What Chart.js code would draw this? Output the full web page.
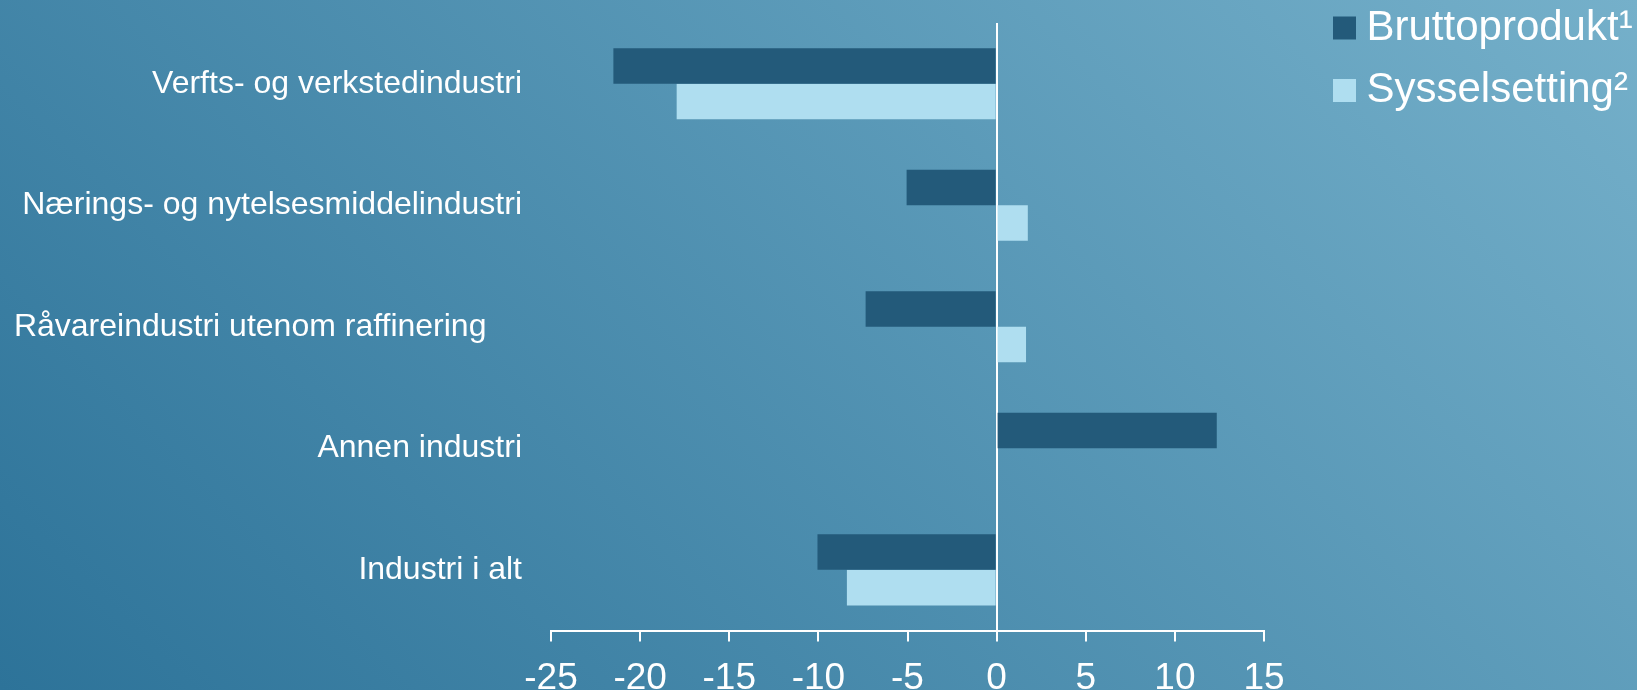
<!DOCTYPE html>
<html>
<head>
<meta charset="utf-8">
<script src="https://cdn.jsdelivr.net/npm/chart.js@4.4.1/dist/chart.umd.min.js"></script>
<style>
    html, body { margin: 0; padding: 0; overflow: hidden; }
    body {
        width: 1637px;
        height: 690px;
        background: linear-gradient(45deg, #2d7399 0%, #75b0ca 100%);
    }
    #wrap { position: relative; width: 1637px; height: 716px; }
</style>
</head>
<body>
<div id="wrap"><canvas id="chart"></canvas></div>
<script>
// categories (trailing spaces on the third label as in the original)
const categories = [
    'Verfts- og verkstedindustri',
    'Nærings- og nytelsesmiddelindustri',
    'Råvareindustri utenom raffinering    ',
    'Annen industri',
    'Industri i alt'
];
const bruttoprodukt = [-21.5, -5.05, -7.35, 12.35, -10.05];
const sysselsetting = [-17.95, 1.75, 1.65, null, -8.4];
const xTicks = [-25, -20, -15, -10, -5, 0, 5, 10, 15];

const FONT = "'Liberation Sans', Arial, sans-serif";

Chart.defaults.font.family = FONT;
Chart.defaults.color = '#ffffff';

// put the legend in the top right corner like in the original
const legendPlacer = {
    id: 'legendPlacer',
    afterLayout: function(chart) {
        let lg = chart.legend;
        let w = lg.width, h = lg.height;
        lg.left = 1323;
        lg.right = lg.left + w;
        lg.top = -13.5;
        lg.bottom = lg.top + h;
    }
};

let chart = new Chart(document.getElementById('chart'), {
    type: 'bar',
    data: {
        labels: categories,
        datasets: [{
            label: 'Bruttoprodukt¹',
            data: bruttoprodukt,
            backgroundColor: '#235a7a',
            borderWidth: 0
        }, {
            label: 'Sysselsetting²',
            data: sysselsetting,
            backgroundColor: '#afdef0',
            borderWidth: 0
        }]
    },
    options: {
        indexAxis: 'y',
        responsive: true,
        maintainAspectRatio: false,
        animation: false,
        layout: { padding: { top: 0, left: 0, right: 373, bottom: 0 } },
        datasets: {
            bar: { categoryPercentage: 0.585, barPercentage: 1.0 }
        },
        scales: {
            x: {
                min: -25,
                max: 15,
                afterBuildTicks: function(scale) {
                    scale.ticks = xTicks.map(v => ({ value: v }));
                },
                afterFit: function(scale) {
                    scale.paddingRight = 0;
                },
                ticks: {
                    color: '#ffffff',
                    font: { size: 37 },
                    padding: 15
                },
                grid: {
                    color: ctx => (ctx.tick && ctx.tick.value === 0) ? '#ffffff' : 'rgba(0,0,0,0)',
                    lineWidth: 2,
                    tickColor: '#ffffff',
                    tickWidth: 2,
                    tickLength: 11
                },
                border: { display: true, color: '#ffffff', width: 2 }
            },
            y: {
                afterFit: function(scale) {
                    scale.width = 551;
                    scale.paddingTop = 23;
                    scale.paddingBottom = 0;
                },
                ticks: {
                    color: '#ffffff',
                    font: { size: 32 },
                    padding: 29
                },
                grid: { display: false, drawTicks: false },
                border: { display: false }
            }
        },
        plugins: {
            legend: {
                position: 'chartArea',
                align: 'start',
                labels: {
                    color: '#ffffff',
                    font: { size: 42 },
                    usePointStyle: true,
                    pointStyle: 'rect',
                    boxWidth: 2,
                    boxHeight: 23,
                    padding: 20.5
                }
            },
            tooltip: { enabled: false }
        }
    },
    plugins: [legendPlacer]
});
</script>
</body>
</html>
